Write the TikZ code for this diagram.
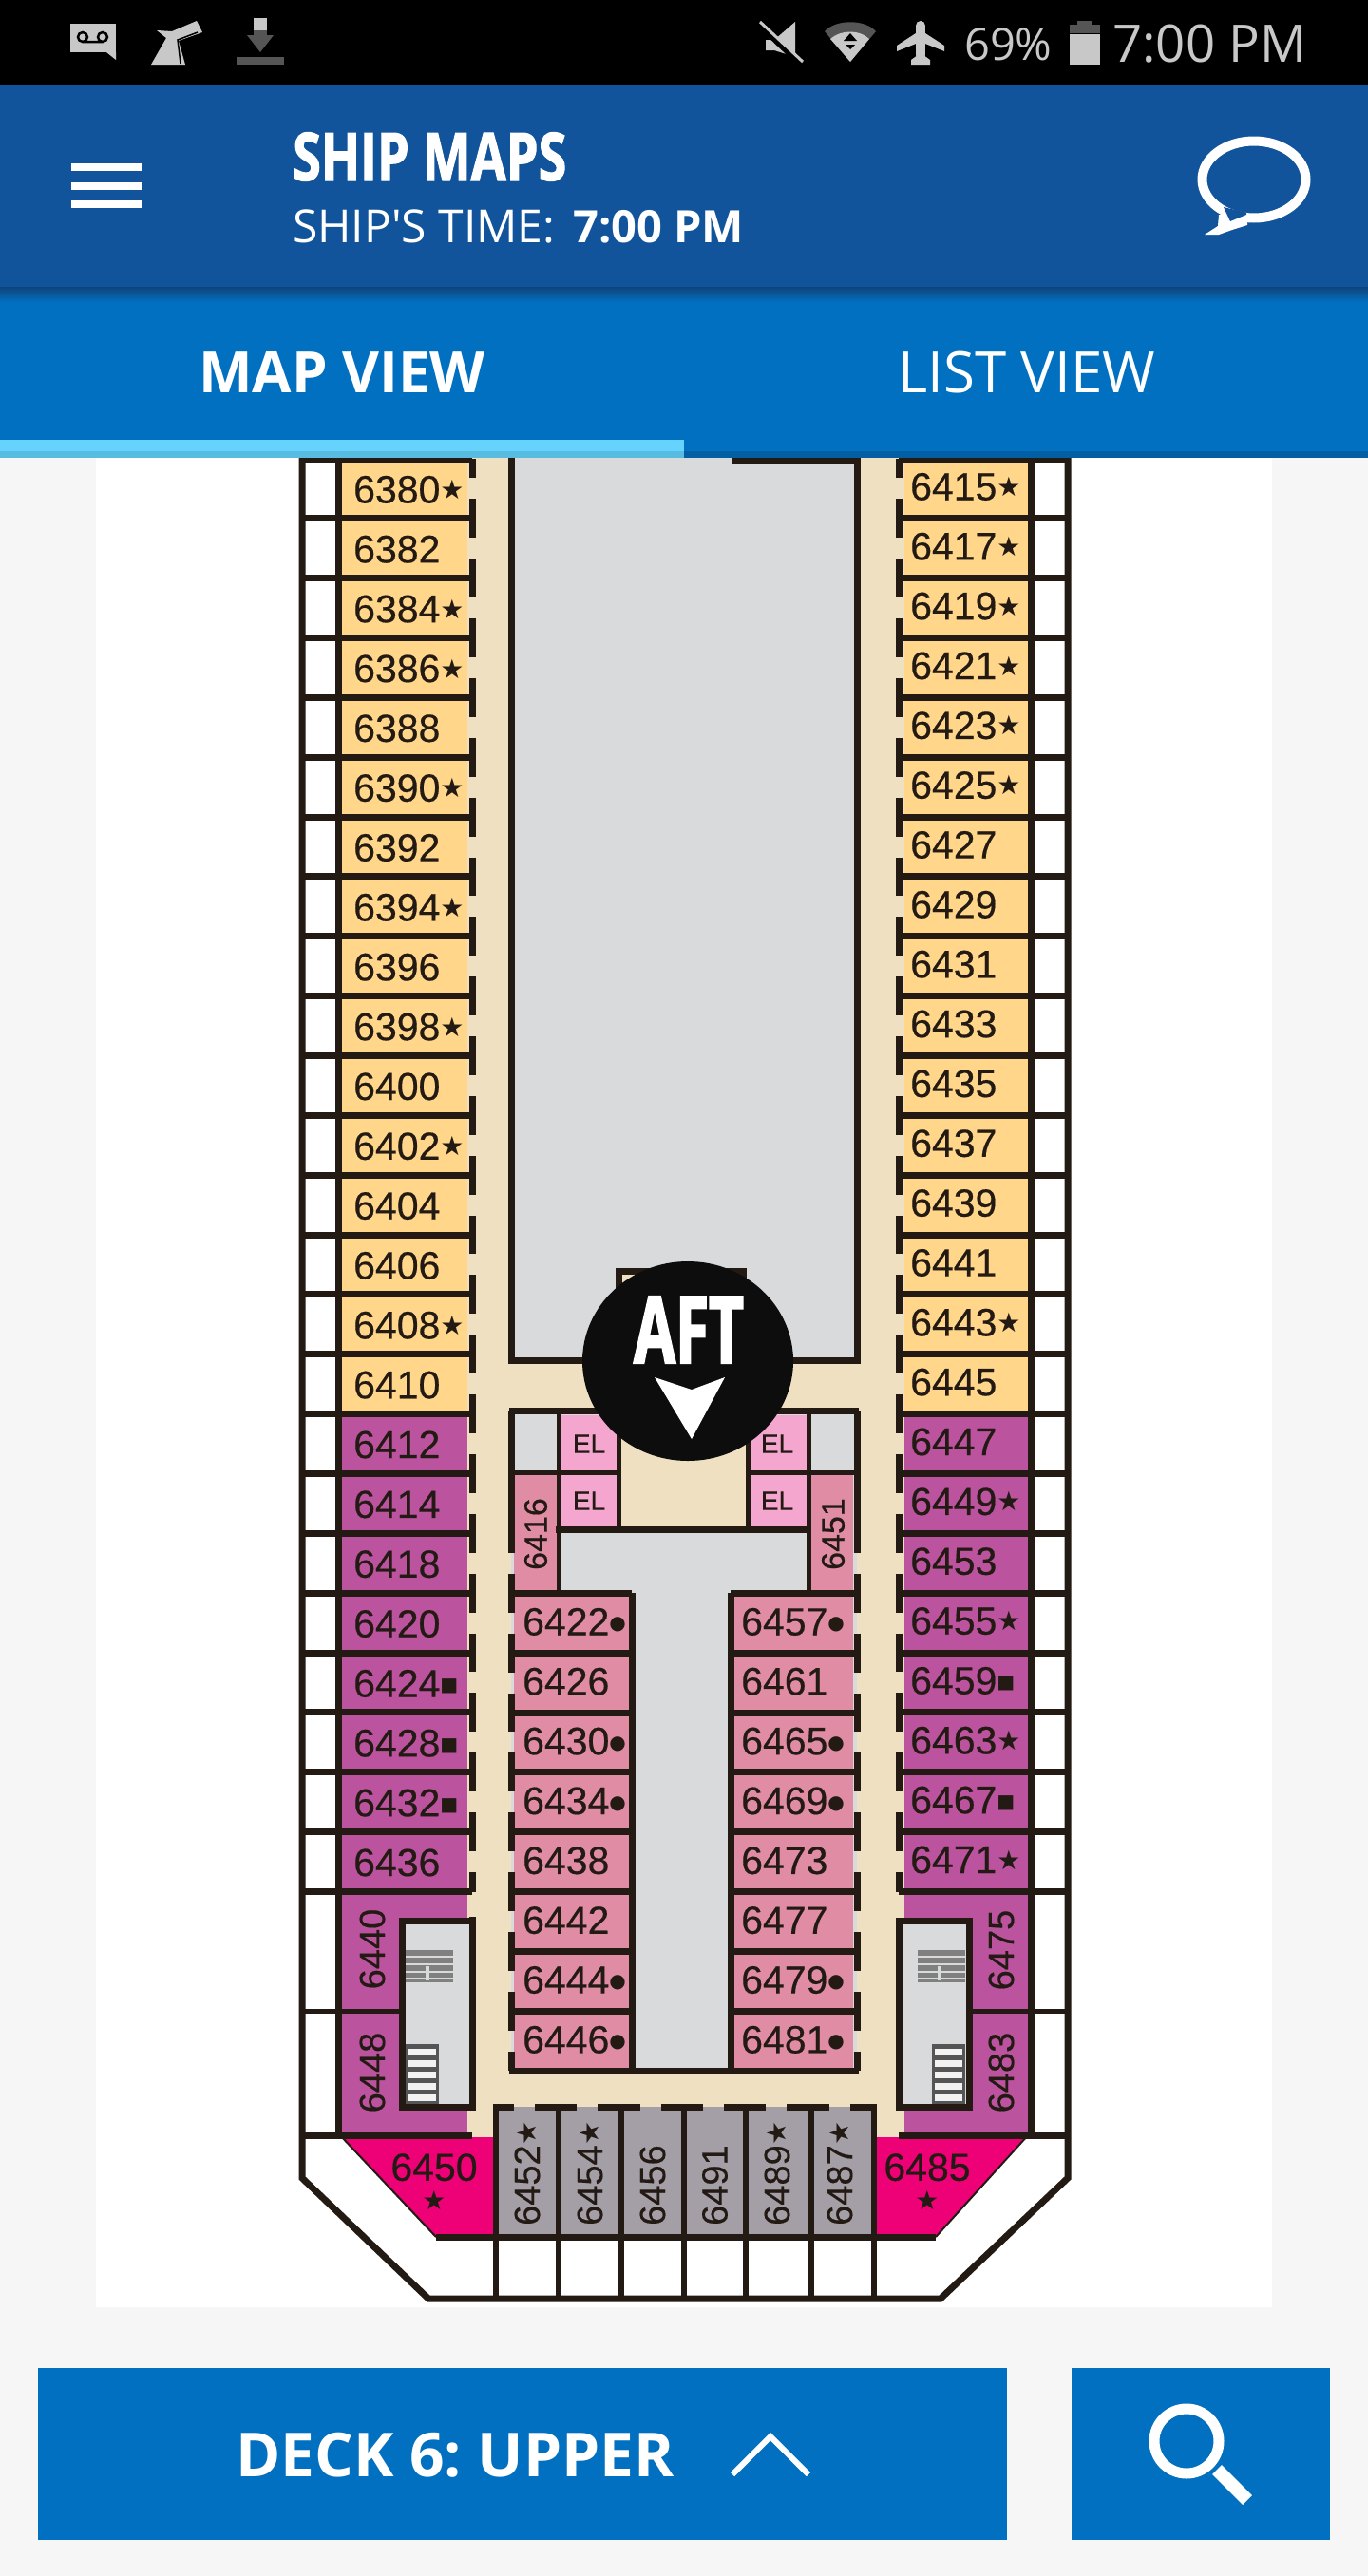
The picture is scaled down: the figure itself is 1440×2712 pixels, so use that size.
\documentclass[tikz,border=0pt]{standalone}
\usepackage{fontspec}
\setmainfont[FakeBold = 0.4]{Liberation Sans}
\newfontfamily\appfont{Open Sans}
\newfontfamily\titlefont[FakeStretch = 0.77, BoldFeatures = {FakeBold = 1.5}]{Open Sans}
\newfontfamily\aftfont[FakeStretch = 0.65, BoldFeatures = {FakeBold = 2}]{Open Sans}
\newfontfamily\markfont{DejaVu Sans}

\definecolor{ink}{HTML}{231A14}
\definecolor{page}{HTML}{F6F6F6}
\definecolor{navy}{HTML}{12549B}
\definecolor{tabblue}{HTML}{0270C0}
\definecolor{sky}{HTML}{66D3FF}
\definecolor{skydark}{HTML}{58BCE0}
\definecolor{corridor}{HTML}{EFE0C2}
\definecolor{shaft}{HTML}{D9DADC}
\definecolor{gold}{HTML}{FFD68A}
\definecolor{plum}{HTML}{BB539F}
\definecolor{rose}{HTML}{E08CA5}
\definecolor{lift}{HTML}{F5A6CF}
\definecolor{hotpink}{HTML}{EE0077}
\definecolor{slate}{HTML}{A49EA6}
\definecolor{iconlight}{HTML}{C8C8C8}
\definecolor{icondark}{HTML}{555555}

\newcommand{\rstar}{{\markfont\fontsize{28}{28}\selectfont\raisebox{4pt}{★}}}
\newcommand{\rbox}{{\markfont\fontsize{20}{20}\selectfont\raisebox{6pt}{■}}}
\newcommand{\rdot}{{\markfont\fontsize{20}{20}\selectfont\raisebox{6pt}{●}}}

\tikzset{wall/.style = {draw = ink, line width = 7pt},
         thinwall/.style = {draw = ink, line width = 5pt},
         doorwall/.style = {wall, dash pattern = on 40.85pt off 22pt, dash phase = 20.42pt},
         cabin/.style = {text = ink, inner sep = 0pt, anchor = west,
                         font = \fontsize{41}{35}\selectfont},
         sidecabin/.style = {cabin, rotate = 90, font = \fontsize{38}{38}\selectfont},
         liftlabel/.style = {text = ink, inner sep = 0pt, font = \fontsize{28}{28}\selectfont},
         apptext/.style = {text = white, inner sep = 0pt, anchor = base west},
         statustext/.style = {text = iconlight, inner sep = 0pt, anchor = base west}}

\begin{document}
\frenchspacing
\begin{tikzpicture}[
    x = 1pt, y = -1pt,
    line join = miter
  ]
  \useasboundingbox (0,0) rectangle (1440,2712);
  \fill[page] (0,0) rectangle (1440,2712);
  \fill[white] (101,482) rectangle (1339,2429);

  % corridors, then everything on top of them
  \fill[corridor] (492,482) rectangle (952,2252);
  \fill[shaft] (538,482) rectangle (902,1432);
  \fill[corridor] (651,1338) rectangle (782,1432);

  % outer cabins
  \foreach \cab [count = \k from 0] in {6380\rstar, 6382, 6384\rstar, 6386\rstar, 6388, 6390\rstar,
      6392, 6394\rstar, 6396, 6398\rstar, 6400, 6402\rstar, 6404, 6406, 6408\rstar, 6410,
      6412, 6414, 6418, 6420, 6424\rbox, 6428\rbox, 6432\rbox, 6436} {
    \pgfmathsetmacro{\ry}{483 + \k*62.85}
    \pgfmathsetmacro{\rc}{\k < 16 ? "gold" : "plum"}
    \fill[\rc] (356,\ry) rectangle ++(136,62.85);
    \node[cabin] (left\k) at (372,\ry + 32.4) {\cab};
  }
  \foreach \cab [count = \k from 0] in {6415\rstar, 6417\rstar, 6419\rstar, 6421\rstar, 6423\rstar,
      6425\rstar, 6427, 6429, 6431, 6433, 6435, 6437, 6439, 6441, 6443\rstar, 6445,
      6447, 6449\rstar, 6453, 6455\rstar, 6459\rbox, 6463\rstar, 6467\rbox, 6471\rstar} {
    \pgfmathsetmacro{\ry}{483 + \k*62.85}
    \pgfmathsetmacro{\rc}{\k < 16 ? "gold" : "plum"}
    \fill[\rc] (952,\ry) rectangle ++(133,62.85);
    \node[cabin] (right\k) at (958,\ry + 29.4) {\cab};
  }

  % stair rooms at both sides
  \fill[plum] (356,1992) rectangle (492,2248);
  \fill[plum] (952,1992) rectangle (1085,2248);
  \fill[shaft] (423,2022) rectangle (497,2218);
  \fill[shaft] (946,2022) rectangle (1020,2218);
  \foreach \ux/\lx in {427/427, 966/981} {
    \fill[gray] (\ux,2053) rectangle ++(50,34);
    \foreach \sy in {2060,2068,2076,2083}
      \draw[white!70!gray, line width = 1.5pt] (\ux,\sy) -- ++(50,0);
    \fill[shaft] (\ux + 21,2070) rectangle ++(4,15);
    \fill[icondark] (\lx,2152) rectangle ++(35,63);
    \foreach \sy in {2157,2169,...,2205}
      \fill[white!90!gray] (\lx + 3,\sy) rectangle ++(29,7);
  }

  % aft rooms
  \fill[hotpink] (360,2250) -- (522,2250) -- (522,2355) -- (459,2355) -- cycle;
  \fill[hotpink] (920,2250) -- (1079,2250) -- (985,2355) -- (920,2355) -- cycle;
  \fill[slate] (522,2218) rectangle (920,2355);

  % block behind the lifts
  \fill[shaft] (538,1485) rectangle (902,2180);
  \fill[corridor] (651,1485) rectangle (787,1610);
  \fill[lift] (588,1490) rectangle (651,1610);
  \fill[lift] (787,1490) rectangle (851,1610);
  \fill[rose] (541,1553) rectangle (588,1677);
  \fill[rose] (851,1553) rectangle (898,1677);
  \foreach \cab [count = \k from 0] in {6422\rdot, 6426, 6430\rdot, 6434\rdot, 6438, 6442, 6444\rdot, 6446\rdot} {
    \pgfmathsetmacro{\ry}{1677.4 + \k*62.85}
    \fill[rose] (541,\ry) rectangle (665,\ry + 62.85);
    \node[cabin] (inleft\k) at (550,\ry + 30) {\cab};
  }
  \foreach \cab [count = \k from 0] in {6457\rdot, 6461, 6465\rdot, 6469\rdot, 6473, 6477, 6479\rdot, 6481\rdot} {
    \pgfmathsetmacro{\ry}{1677.4 + \k*62.85}
    \fill[rose] (769,\ry) rectangle (898,\ry + 62.85);
    \node[cabin] (inright\k) at (780,\ry + 30) {\cab};
  }

  % walls
  \draw[wall] (318,482) -- (318,2293) -- (451,2420) -- (990,2420) -- (1124,2293) -- (1124,482);
  \draw[wall] (356,482) -- (356,2248);
  \draw[wall] (1085,482) -- (1085,2248);
  \foreach \k in {0,...,24} {
    \pgfmathsetmacro{\ry}{483 + \k*62.85}
    \draw[wall] (318,\ry) -- (497,\ry);
    \draw[wall] (946,\ry) -- (1124,\ry);
  }
  \draw[doorwall] (497,483) -- (497,1992);
  \draw[doorwall] (946,483) -- (946,1992);
  \draw[wall] (538,482) -- (538,1432) -- (902,1432) -- (902,482);
  \draw[wall] (770,484) -- (902,484);
  \draw[wall] (651,1432) -- (651,1338) -- (782,1338) -- (782,1432);
  \draw[thinwall] (318,2117) -- (423,2117);
  \draw[thinwall] (1020,2117) -- (1124,2117);
  \draw[wall] (318,2248) -- (497,2248);
  \draw[wall] (946,2248) -- (1124,2248);
  \draw[wall] (497,2018) -- (497,2022) -- (423,2022) -- (423,2218) -- (497,2218) -- (497,2022);
  \draw[wall] (946,2022) -- (1020,2022) -- (1020,2218) -- (946,2218) -- cycle;
  \draw[draw = ink, line width = 2pt] (358,2248) -- (459,2355);
  \draw[draw = ink, line width = 2pt] (1082,2248) -- (985,2355);

  \draw[wall] (536,1485) -- (651,1485) (787,1485) -- (904,1485);
  \draw[wall] (538,1485) -- (538,1614.4);
  \draw[wall] (902,1485) -- (902,1614.4);
  \draw[doorwall] (538,1614.4) -- (538,2180);
  \draw[doorwall] (902,1614.4) -- (902,2180);
  \draw[wall] (536,2180) -- (904,2180);
  \draw[thinwall] (588,1485) -- (588,1677);
  \draw[thinwall] (851,1485) -- (851,1677);
  \draw[thinwall] (538,1550) -- (651,1550);
  \draw[thinwall] (787,1550) -- (902,1550);
  \draw[wall] (585,1610) -- (854,1610);
  \draw[thinwall] (651,1485) -- (651,1610);
  \draw[thinwall] (787,1485) -- (787,1610);
  \draw[wall] (665,1677) -- (665,2180);
  \draw[wall] (769,1677) -- (769,2180);
  \foreach \k in {0,...,7} {
    \pgfmathsetmacro{\ry}{1677.4 + \k*62.85}
    \draw[wall] (538,\ry) -- (665,\ry);
    \draw[wall] (769,\ry) -- (902,\ry);
  }

  \draw[wall, dash pattern = on 44.33pt off 22pt, dash phase = 22.17pt] (519,2218) -- (923,2218);
  \foreach \wx in {522,588,654,720,785,854,920}
    \draw[draw = ink, line width = 6pt] (\wx,2218) -- (\wx,2420);
  \draw[wall] (459,2355) -- (985,2355);

  % rooms along the walls
  \node[sidecabin, font = \fontsize{34}{34}\selectfont, anchor = center] (room6416) at (564,1615) {6416};
  \node[sidecabin, font = \fontsize{34}{34}\selectfont, anchor = center] (room6451) at (877,1615) {6451};
  \node[sidecabin, anchor = center] (room6440) at (392,2052) {6440};
  \node[sidecabin, anchor = center] (room6448) at (392,2182) {6448};
  \node[sidecabin, anchor = center] (room6475) at (1054,2053) {6475};
  \node[sidecabin, anchor = center] (room6483) at (1054,2182) {6483};
  \foreach \rx/\cab in {555/6452\rstar, 621/6454\rstar, 687/6456, 752.5/6491, 818/6489\rstar, 884/6487\rstar}
    \node[sidecabin] (room\rx) at (\rx,2343) {\cab};
  \node[cabin, anchor = north, align = center] (room6450) at (457,2267) {6450\\\rstar};
  \node[cabin, anchor = north, align = center] (room6485) at (976,2267) {6485\\\rstar};
  \node[liftlabel] (liftA) at (620,1520) {EL};
  \node[liftlabel] (liftB) at (620,1580) {EL};
  \node[liftlabel] (liftC) at (818,1520) {EL};
  \node[liftlabel] (liftD) at (818,1580) {EL};

  % aft marker
  \fill[black!95] (724,1433) ellipse [x radius = 111pt, y radius = 105pt];
  \node[text = white, inner sep = 0pt, font = \aftfont\bfseries\fontsize{98}{98}\selectfont] (aft) at (725,1400) {AFT};
  \fill[white] (689,1450) -- (728,1463) -- (763,1450) -- (728,1515) -- cycle;

  % app bars
  \fill[black] (0,0) rectangle (1440,90);
  \fill[navy] (0,90) rectangle (1440,302);
  \fill[tabblue] (0,302) rectangle (1440,482);
  \shade[top color = navy!80!black, bottom color = tabblue] (0,302) rectangle (1440,318);
  \fill[sky] (0,463) rectangle (720,475);
  \fill[skydark] (0,475) rectangle (720,482);
  \fill[tabblue!85!black] (720,475) rectangle (1440,482);

  % status bar
  \fill[iconlight] (74,25) rectangle (122,55);
  \fill[iconlight] (112,55) -- (122,55) -- (122,63) -- cycle;
  \draw[black, line width = 2.5pt] (87,39) circle [radius = 5pt] (108,39) circle [radius = 5pt] (87,44) -- (108,44);
  \fill[iconlight] (159,68) -- (195,68) -- (188,43) -- (213,34) -- (207,22) -- (181,33) -- (165,32) -- (175,40) -- cycle;
  \draw[black, line width = 1.5pt] (190,67) -- (187,42) -- (208,34);
  \fill[iconlight] (267,19) rectangle (281,32);
  \fill[icondark] (267,32) rectangle (281,37);
  \fill[icondark] (260,37) -- (288,37) -- (274,55) -- cycle;
  \fill[icondark] (249,60) rectangle (299,68);
  \fill[iconlight] (806,42) -- (815,42) -- (837,23) -- (837,60) -- (815,53) -- (806,53) -- cycle;
  \draw[black, line width = 6pt] (798,25) -- (843,68);
  \draw[iconlight, line width = 3pt] (800,23) -- (845,65);
  \fill[icondark] (868,33) .. controls (880,20) and (910,20) .. (922,33) -- (895,65) -- cycle;
  \fill[iconlight] (874,41) .. controls (885,31) and (905,31) .. (915,41) -- (895,65) -- cycle;
  \fill[black] (888,43) -- (902,43) -- (895,35) -- cycle;
  \fill[black] (890,47) -- (900,47) -- (895,52) -- cycle;
  \draw[iconlight, line width = 10pt, line cap = round] (969,27) -- (969,58);
  \fill[iconlight] (944,48) -- (964,35) -- (974,35) -- (994,48) -- (994,54) -- (974,46) -- (964,46) -- (944,54) -- cycle;
  \fill[iconlight] (959,68) -- (979,68) -- (979,63) -- (972,58) -- (966,58) -- (959,63) -- cycle;
  \node[statustext, font = \appfont\fontsize{47}{47}\selectfont] (battery) at (1015,63) {69\%};
  \fill[iconlight] (1126,36) rectangle (1158,68);
  \fill[icondark] (1126,26) rectangle (1158,35);
  \fill[icondark] (1134,22) rectangle (1149,26);
  \node[statustext, font = \appfont\fontsize{54.5}{54.5}\selectfont] (clock) at (1171,65) {7:00 PM};

  % header
  \foreach \by in {172,192,211}
    \fill[white] (75,\by) rectangle ++(74,7.5);
  \node[apptext, font = \titlefont\bfseries\fontsize{70}{70}\selectfont] (title) at (308,190) {SHIP MAPS};
  \node[apptext, font = \appfont\fontsize{48}{48}\selectfont] (timelabel) at (308,255) {SHIP'S TIME:};
  \node[apptext, font = \appfont\bfseries\fontsize{47}{47}\selectfont] (timevalue) at (603,255) {7:00 PM};
  \draw[white, line width = 10pt, fill = navy] (1320,189) ellipse [x radius = 54.5pt, y radius = 40.5pt];
  \fill[white] (1283,226) -- (1282,238) -- (1268,247) -- (1283,247) -- (1297,242) -- (1313,237) -- (1313,226) -- cycle;
  \fill[navy] (1288,218) -- (1295,233) -- (1312,226) -- (1312,224) -- cycle;

  % tabs
  \node[apptext, font = \appfont\bfseries\fontsize{60}{60}\selectfont] (mapview) at (209,413) {MAP VIEW};
  \node[apptext, font = \appfont\fontsize{60}{60}\selectfont] (listview) at (945,413) {LIST VIEW};

  % bottom buttons
  \fill[tabblue] (40,2493) rectangle (1060,2674);
  \fill[tabblue] (1128,2493) rectangle (1400,2674);
  \node[apptext, font = \appfont\bfseries\fontsize{64}{64}\selectfont] (deck) at (248,2607) {DECK 6: UPPER};
  \draw[white, line width = 6pt] (771,2605) -- (811,2565) -- (851,2605);
  \draw[white, line width = 11pt] (1249,2570) circle [radius = 34pt];
  \draw[white, line width = 14pt] (1281,2600) -- (1313,2632);
\end{tikzpicture}
\end{document}
